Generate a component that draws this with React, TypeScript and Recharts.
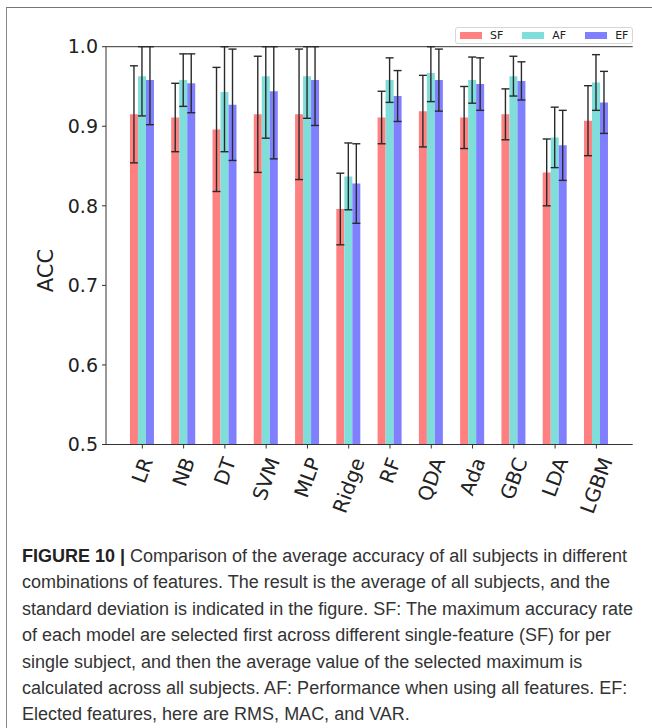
import React from 'react';
import { BarChart, Bar, XAxis, YAxis, ErrorBar, Legend, Label, ReferenceLine } from 'recharts';

const categories = ['LR', 'NB', 'DT', 'SVM', 'MLP', 'Ridge', 'RF', 'QDA', 'Ada', 'GBC', 'LDA', 'LGBM'];
const sfValues = [0.915, 0.911, 0.896, 0.915, 0.915, 0.796, 0.911, 0.919, 0.911, 0.915, 0.842, 0.907];
const afValues = [0.963, 0.958, 0.943, 0.963, 0.963, 0.837, 0.958, 0.967, 0.958, 0.963, 0.886, 0.955];
const efValues = [0.958, 0.954, 0.927, 0.944, 0.958, 0.828, 0.938, 0.958, 0.953, 0.957, 0.876, 0.930];
const sfStd = [0.061, 0.043, 0.078, 0.073, 0.082, 0.045, 0.033, 0.045, 0.039, 0.032, 0.042, 0.044];
const afStd = [0.05, 0.033, 0.075, 0.078, 0.053, 0.042, 0.028, 0.036, 0.029, 0.025, 0.038, 0.035];
const efStd = [0.056, 0.037, 0.07, 0.085, 0.057, 0.05, 0.032, 0.039, 0.033, 0.024, 0.044, 0.039];
const yTicks = [0.5, 0.6, 0.7, 0.8, 0.9, 1.0];
const Y_MAX = 1.0;

const series = [
    { key: 'SF', err: 'SFerr', color: '#ff8080' },
    { key: 'AF', err: 'AFerr', color: '#80deda' },
    { key: 'EF', err: 'EFerr', color: '#8080ff' },
];

// error bars are cut at the top of the axes, like in the figure
const clipErr = (v: number, e: number) => [e, Math.min(e, Y_MAX - v)];

const rows = categories.map((name, i) => ({
    name,
    SF: sfValues[i],
    AF: afValues[i],
    EF: efValues[i],
    SFerr: clipErr(sfValues[i], sfStd[i]),
    AFerr: clipErr(afValues[i], afStd[i]),
    EFerr: clipErr(efValues[i], efStd[i]),
}));

const captionLines = [
    'combinations of features. The result is the average of all subjects, and the',
    'standard deviation is indicated in the figure. SF: The maximum accuracy rate',
    'of each model are selected first across different single-feature (SF) for per',
    'single subject, and then the average value of the selected maximum is',
    'calculated across all subjects. AF: Performance when using all features. EF:',
    'Elected features, here are RMS, MAC, and VAR.',
];

const TICK_FONT = 19;
const XTICK_FONT = 20;
const FONT = '"DejaVu Sans", sans-serif';

let ctx: CanvasRenderingContext2D | null = null;
const measure = (s: string) => {
    if (!ctx) ctx = document.createElement('canvas').getContext('2d');
    if (!ctx) return s.length * XTICK_FONT * 0.65;
    ctx.font = `${XTICK_FONT}px "DejaVu Sans"`;
    return ctx.measureText(s).width;
};

// rotated label, bbox centred under the tick like matplotlib's rotation=70
const RotatedTick = (props: any) => {
    const { x, y, payload } = props;
    const w = measure(payload.value);
    const h = XTICK_FONT * 1.16;
    const a = (70 * Math.PI) / 180;
    const boxH = w * Math.sin(a) + h * Math.cos(a);
    const cy = y + 3 + boxH / 2;
    return (
        <text
            x={x}
            y={cy}
            transform={`rotate(-70, ${x}, ${cy})`}
            textAnchor="middle"
            dominantBaseline="central"
            fontSize={XTICK_FONT}
            fontFamily={FONT}
            fill="#222"
        >
            {payload.value}
        </text>
    );
};

const LegendBox = () => (
    <div
        style={{
            display: 'flex',
            alignItems: 'center',
            height: 17,
            border: '1px solid #d6d6d6',
            borderRadius: 3,
            background: '#fff',
            fontFamily: FONT,
            fontSize: 11,
            color: '#222',
            boxSizing: 'border-box',
            paddingLeft: 4,
        }}
    >
        {series.map((s, i) => (
            <div key={s.key} style={{ display: 'flex', alignItems: 'center', marginRight: i < 2 ? 19 : 0 }}>
                <span style={{ display: 'inline-block', width: 22, height: 7, background: s.color, marginRight: 8 }} />
                <span>{s.key}</span>
            </div>
        ))}
    </div>
);

export default function App() {
    return (
        <div style={{ position: 'absolute', left: 0, top: 0, width: 652, height: 728, background: '#fff', overflow: 'hidden' }}>
            <div
                style={{
                    position: 'absolute',
                    left: 6,
                    top: 7,
                    right: -4,
                    bottom: -4,
                    borderTop: '1.5px solid #777',
                    borderLeft: '1.5px solid #888',
                }}
            />
            <div style={{ position: 'absolute', left: 0, top: 0 }}>
                <BarChart
                    width={652}
                    height={524.5}
                    data={rows}
                    margin={{ top: 46.7, right: 19.3, bottom: 0, left: 46 }}
                    barCategoryGap="20%"
                    barGap={0}
                >
                    <XAxis
                        dataKey="name"
                        interval={0}
                        height={80}
                        padding={{ left: 15.7, right: 15.7 }}
                        tickSize={4}
                        tickMargin={3}
                        tick={<RotatedTick />}
                        stroke="#333"
                        axisLine={{ stroke: '#333', strokeWidth: 1 }}
                        tickLine={{ stroke: '#333' }}
                    />
                    <YAxis
                        width={60}
                        domain={[0.5, Y_MAX]}
                        ticks={yTicks}
                        allowDataOverflow
                        tickFormatter={(v: number) => v.toFixed(1)}
                        tickSize={4}
                        tickMargin={4}
                        tick={{ fontSize: TICK_FONT, fontFamily: FONT, fill: '#222' }}
                        axisLine={{ stroke: '#333', strokeWidth: 1 }}
                        tickLine={{ stroke: '#333' }}
                    >
                        <Label
                            content={(p: any) => {
                                const vb = p.viewBox || { y: 46.7, height: 398 };
                                const cy = vb.y + vb.height / 2 + 25;
                                return (
                                    <text
                                        x={46}
                                        y={cy}
                                        transform={`rotate(-90, 46, ${cy})`}
                                        textAnchor="middle"
                                        dominantBaseline="central"
                                        fontSize={21}
                                        fontFamily={FONT}
                                        fill="#222"
                                    >
                                        ACC
                                    </text>
                                );
                            }}
                        />
                    </YAxis>
                    <YAxis
                        yAxisId="right"
                        orientation="right"
                        width={0}
                        domain={[0.5, Y_MAX]}
                        tick={false}
                        tickLine={false}
                        axisLine={{ stroke: '#333', strokeWidth: 1 }}
                    />
                    <ReferenceLine y={Y_MAX} stroke="#333" strokeWidth={1} />
                    <Legend
                        layout="horizontal"
                        verticalAlign="middle"
                        content={<LegendBox />}
                        wrapperStyle={{ position: 'absolute', left: 455, top: 27, width: 178, height: 18 }}
                    />
                    {series.map((s) => (
                        <Bar key={s.key} dataKey={s.key} fill={s.color} isAnimationActive={false}>
                            <ErrorBar dataKey={s.err} width={4} stroke="#2a2a2a" strokeWidth={1.4} direction="y" isAnimationActive={false} />
                        </Bar>
                    ))}
                </BarChart>
            </div>
            <div
                style={{
                    position: 'absolute',
                    left: 22,
                    top: 543,
                    fontFamily: '"Liberation Sans", Arial, sans-serif',
                    fontSize: 18,
                    lineHeight: '26.4px',
                    color: '#333',
                    whiteSpace: 'nowrap',
                }}
            >
                <div>
                    <b style={{ color: '#222' }}>FIGURE 10 |</b> Comparison of the average accuracy of all subjects in different
                </div>
                {captionLines.map((l) => (
                    <div key={l}>{l}</div>
                ))}
            </div>
        </div>
    );
}
